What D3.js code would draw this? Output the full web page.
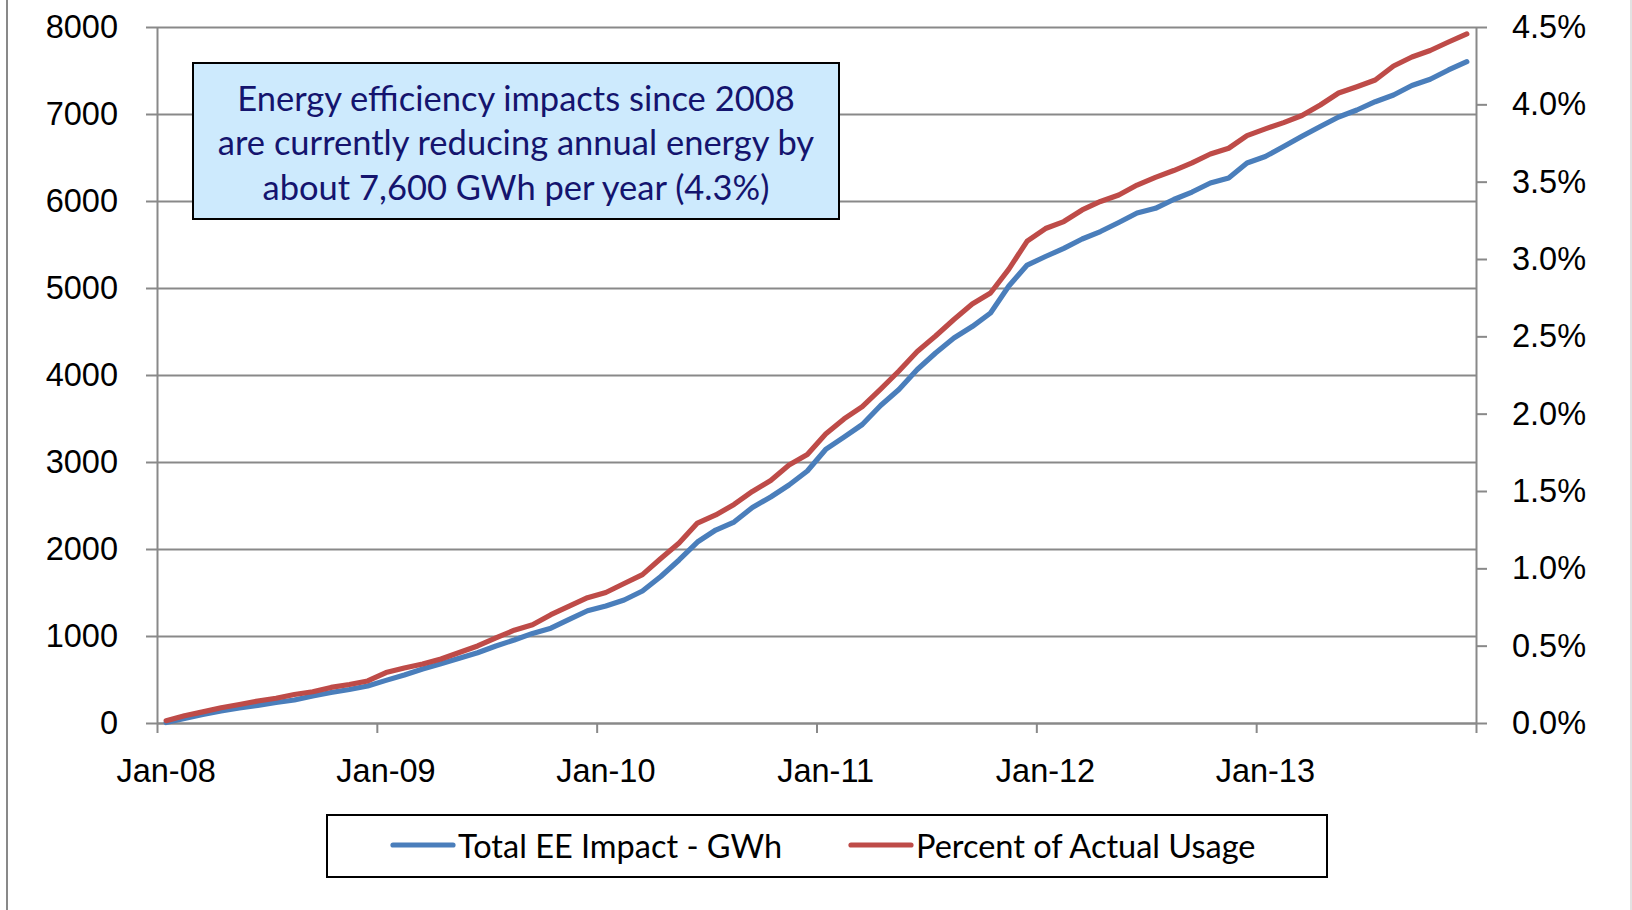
<!DOCTYPE html>
<html>
<head>
<meta charset="utf-8">
<script src="https://cdn.jsdelivr.net/npm/d3@7"></script>
<style>
  html, body { margin: 0; padding: 0; background: #fff; }
  svg { display: block; font-family: Lato, "Open Sans", sans-serif; }
</style>
</head>
<body>
<div id="chart"></div>
<script>
// monthly, Jan-08 .. Dec-13
const years = ["08", "09", "10", "11", "12", "13"];
const months = years.flatMap(y => d3.range(12).map(m => `${y}-${m + 1}`));

// Total EE Impact - GWh (left axis)
const gwh = [
  5, 52, 97, 138, 172, 203, 236, 264, 310, 350, 385, 425,
  490, 552, 621, 682, 744, 808, 885, 954, 1030, 1090, 1190, 1290,
  1345, 1414, 1517, 1684, 1874, 2080, 2218, 2310, 2477, 2598, 2736, 2897,
  3144, 3287, 3431, 3649, 3833, 4063, 4253, 4425, 4557, 4713, 5023, 5264,
  5362, 5456, 5563, 5649, 5753, 5862, 5916, 6017, 6103, 6207, 6264, 6437,
  6511, 6626, 6744, 6856, 6966, 7046, 7141, 7218, 7328, 7399, 7506, 7601
];

// Percent of Actual Usage (right axis, %)
const pct = [
  0.015, 0.047, 0.072, 0.099, 0.12, 0.142, 0.16, 0.184, 0.202, 0.23, 0.249, 0.272,
  0.326, 0.356, 0.381, 0.414, 0.456, 0.498, 0.55, 0.60, 0.635, 0.70, 0.755, 0.81,
  0.844, 0.902, 0.959, 1.064, 1.164, 1.293, 1.345, 1.413, 1.497, 1.568, 1.668, 1.736,
  1.868, 1.966, 2.046, 2.159, 2.276, 2.402, 2.502, 2.609, 2.709, 2.780, 2.935, 3.116,
  3.197, 3.242, 3.317, 3.372, 3.414, 3.478, 3.528, 3.572, 3.621, 3.679, 3.716, 3.798,
  3.841, 3.882, 3.928, 3.996, 4.073, 4.114, 4.157, 4.248, 4.306, 4.348, 4.403, 4.455
];

const leftTicks = d3.range(0, 8001, 1000);
const rightTicks = d3.range(0, 4.51, 0.5);
const seriesNames = ["Total EE Impact - GWh", "Percent of Actual Usage"];
const noteLines = [
  "Energy efficiency impacts since 2008",
  "are currently reducing annual energy by",
  "about 7,600 GWh per year (4.3%)"
];

const W = 1632, H = 910;
const plot = { left: 157, right: 1476, top: 27, bottom: 723 };
const gray = "#898989";
const blue = "#4a7ebb", red = "#be4b48";
const fontSize = "32.5px";
const noteFont = "34.5px";
const lineW = 5.2;

const svg = d3.select("#chart").append("svg")
  .attr("width", W)
  .attr("height", H);

// chart area border (left/right edges)
svg.append("line").attr("x1", 7).attr("x2", 7).attr("y1", 0).attr("y2", H)
  .attr("stroke", gray).attr("stroke-width", 2);
svg.append("line").attr("x1", 1631).attr("x2", 1631).attr("y1", 0).attr("y2", H)
  .attr("stroke", "#d9d9d9").attr("stroke-width", 1.5);

const x = d3.scaleBand().domain(months).range([plot.left, plot.right]).padding(0);
const xIdx = d3.scaleLinear().domain([0, months.length]).range([plot.left, plot.right]);
const yL = d3.scaleLinear().domain([0, 8000]).range([plot.bottom, plot.top]);
const yR = d3.scaleLinear().domain([0, 4.5]).range([plot.bottom, plot.top]);
const cx = m => x(m) + x.bandwidth() / 2;

// gridlines
svg.append("g")
  .attr("transform", `translate(${plot.left},0)`)
  .call(d3.axisLeft(yL).tickValues(leftTicks).tickSize(-(plot.right - plot.left)).tickFormat(""))
  .call(g => g.select(".domain").remove())
  .call(g => g.selectAll("line").attr("stroke", gray).attr("stroke-width", 2));

function styleAxis(g) {
  g.select(".domain").attr("stroke", gray).attr("stroke-width", 2);
  g.selectAll(".tick line").attr("stroke", gray).attr("stroke-width", 2);
  g.selectAll("text").attr("fill", "#000").style("font-size", fontSize).style("font-family", null);
}

// left axis
svg.append("g")
  .attr("transform", `translate(${plot.left},0)`)
  .call(d3.axisLeft(yL).tickValues(leftTicks).tickSize(11).tickSizeOuter(0).tickPadding(28)
    .tickFormat(d3.format("d")))
  .call(styleAxis);

// right axis
svg.append("g")
  .attr("transform", `translate(${plot.right},0)`)
  .call(d3.axisRight(yR).tickValues(rightTicks).tickSize(11).tickSizeOuter(0).tickPadding(25)
    .tickFormat(d => d.toFixed(1) + "%"))
  .call(styleAxis);

// bottom axis: ticks at year boundaries
svg.append("g")
  .attr("transform", `translate(0,${plot.bottom})`)
  .call(d3.axisBottom(xIdx).tickValues(d3.range(0, months.length + 1, 12)).tickSize(10).tickSizeOuter(0).tickFormat(""))
  .call(styleAxis);

// bottom labels centred on January slots
svg.append("g")
  .attr("transform", `translate(0,${plot.bottom})`)
  .call(d3.axisBottom(x).tickValues(months.filter(m => m.endsWith("-1"))).tickSize(0).tickPadding(36)
    .tickFormat(m => "Jan-" + m.split("-")[0]))
  .call(g => g.select(".domain").remove())
  .call(styleAxis);

// lines
const lineL = d3.line().x((d, i) => cx(months[i])).y(d => yL(d));
const lineR = d3.line().x((d, i) => cx(months[i])).y(d => yR(d));

svg.append("path").datum(gwh)
  .attr("d", lineL)
  .attr("fill", "none").attr("stroke", blue).attr("stroke-width", lineW)
  .attr("stroke-linejoin", "round").attr("stroke-linecap", "round");

svg.append("path").datum(pct)
  .attr("d", lineR)
  .attr("fill", "none").attr("stroke", red).attr("stroke-width", lineW)
  .attr("stroke-linejoin", "round").attr("stroke-linecap", "round");

// annotation box
const note = svg.append("g");
note.append("rect")
  .attr("x", 193).attr("y", 63).attr("width", 646).attr("height", 156)
  .attr("fill", "#cdeafd").attr("stroke", "#000").attr("stroke-width", 2);
note.selectAll("text")
  .data(noteLines)
  .enter().append("text")
  .attr("x", 516)
  .attr("y", (d, i) => 97 + i * 44.6)
  .attr("text-anchor", "middle")
  .attr("dominant-baseline", "central")
  .attr("fill", "#14146e")
  .style("font-size", noteFont)
  .text(d => d);

// legend
const legend = svg.append("g");
legend.append("rect")
  .attr("x", 327).attr("y", 815).attr("width", 1000).attr("height", 62)
  .attr("fill", "#fff").attr("stroke", "#000").attr("stroke-width", 2);

const legendItems = [
  { name: seriesNames[0], color: blue, x: 393 },
  { name: seriesNames[1], color: red, x: 851 }
];
const li = legend.selectAll("g.item").data(legendItems).enter().append("g");
li.append("line")
  .attr("x1", d => d.x).attr("x2", d => d.x + 60)
  .attr("y1", 845).attr("y2", 845)
  .attr("stroke", d => d.color).attr("stroke-width", lineW).attr("stroke-linecap", "round");
li.append("text")
  .attr("x", d => d.x + 65)
  .attr("y", 845)
  .attr("dominant-baseline", "central")
  .style("font-size", fontSize)
  .text(d => d.name);
</script>
</body>
</html>
